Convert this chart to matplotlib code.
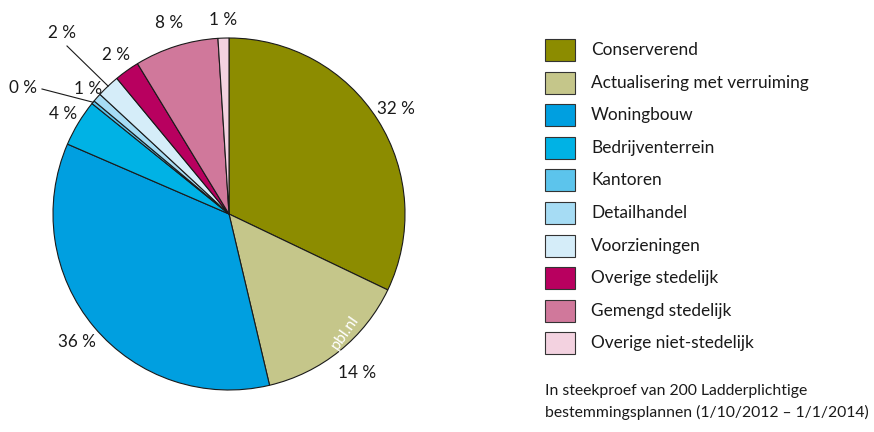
import numpy as np
import matplotlib
matplotlib.use("Agg")
import matplotlib.pyplot as plt
from matplotlib.patches import Rectangle

categories = ["Conserverend", "Actualisering met verruiming", "Woningbouw",
              "Bedrijventerrein", "Kantoren", "Detailhandel", "Voorzieningen",
              "Overige stedelijk", "Gemengd stedelijk", "Overige niet-stedelijk"]
values = [32.1, 14.2, 35.2, 4.3, 0.3, 0.8, 2.1, 2.3, 7.7, 1.0]
value_labels = ["32 %", "14 %", "36 %", "4 %", "0 %", "1 %", "2 %", "2 %", "8 %", "1 %"]
colors = ["#8c8c00", "#c5c68a", "#009fe0", "#00b2e5", "#5cc4ec", "#a6dcf4",
          "#d5edf9", "#b8005f", "#d0789b", "#f3d2e0"]
note = ["In steekproef van 200 Ladderplichtige",
        "bestemmingsplannen (1/10/2012 \u2013 1/1/2014)"]

plt.rcParams['font.family'] = ['Lato', 'DejaVu Sans']

W, H = 874, 432
fig = plt.figure(figsize=(W / 100, H / 100), dpi=100)
ax = fig.add_axes([0, 0, 1, 1])

cx, cy, R = 229, H - 214, 176
wedges, _ = ax.pie(values, colors=colors, startangle=90, counterclock=False,
                   center=(cx, cy), radius=R, frame=True,
                   wedgeprops=dict(edgecolor="#1a1a1a", linewidth=0.8))
ax.set_xlim(0, W)
ax.set_ylim(0, H)
ax.set_aspect("equal")
ax.axis("off")

LBL = 12.3
# label placement: radius factor for each slice
label_r = [1.12, 1.16, 1.13, 1.10, None, 1.07, None, 1.11, 1.14, 1.10]
for i, w in enumerate(wedges):
    mid = np.deg2rad((w.theta1 + w.theta2) / 2)
    if label_r[i] is None:
        continue
    r = label_r[i] * R
    ax.text(cx + r * np.cos(mid), cy + r * np.sin(mid), value_labels[i],
            ha="center", va="center", fontsize=LBL, color="#1a1a1a")

# leader-line labels
for i, (tx, ty) in [(4, (23, H - 88)), (6, (62, H - 33))]:
    mid = np.deg2rad((wedges[i].theta1 + wedges[i].theta2) / 2)
    ex, ey = cx + R * np.cos(mid), cy + R * np.sin(mid)
    ax.text(tx, ty, value_labels[i], ha="center", va="center",
            fontsize=LBL, color="#1a1a1a")
    sx = tx + (19 if i == 4 else 5)
    sy = ty - (1 if i == 4 else 13)
    ax.plot([sx, ex], [sy, ey], color="#1a1a1a", lw=0.8)

# watermark
ax.text(345, H - 332, "pbl.nl", color="white", fontsize=11.5, rotation=55,
        ha="center", va="center")

# legend
y0, dy = H - 50, 32.6
for i, (c, lab) in enumerate(zip(colors, categories)):
    y = y0 - i * dy
    ax.add_patch(Rectangle((545, y - 11), 30, 22, facecolor=c,
                           edgecolor="#333333", lw=0.8))
    ax.text(591, y, lab, ha="left", va="center", fontsize=12.4, color="#1a1a1a")

for j, line in enumerate(note):
    ax.text(545, H - 391 - j * 21.5, line, ha="left", va="center",
            fontsize=11.3, color="#1a1a1a")

fig.savefig("out.png", dpi=100)
